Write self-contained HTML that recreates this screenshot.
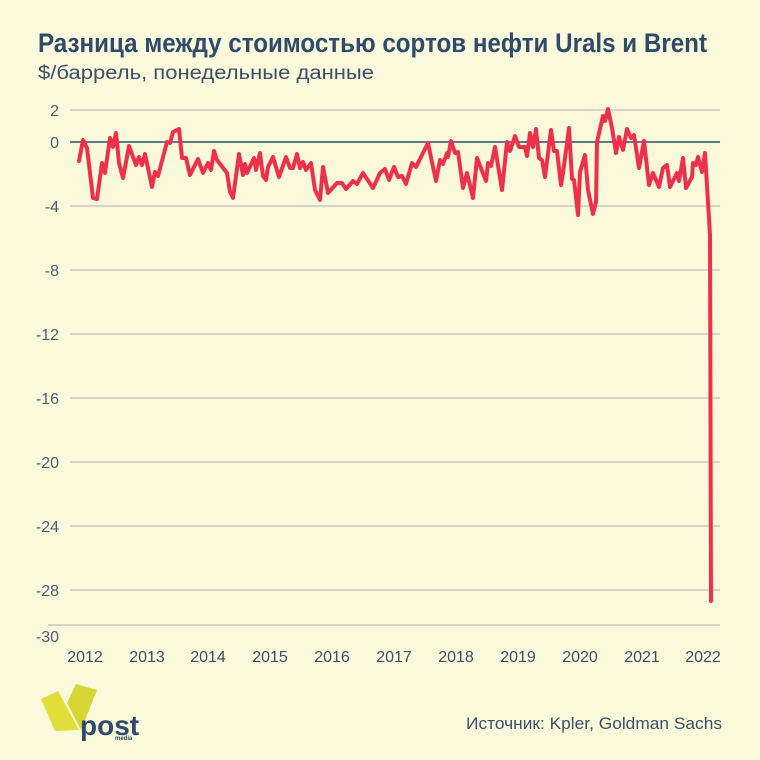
<!DOCTYPE html>
<html><head><meta charset="utf-8"><style>
html,body{margin:0;padding:0;background:#faf9dc;}
svg{display:block;font-family:"Liberation Sans",sans-serif;}
</style></head><body>
<svg width="760" height="760" viewBox="0 0 760 760">
<rect width="760" height="760" fill="#faf9dc"/>
<text x="38" y="52" font-size="27" font-weight="bold" fill="#2f4a6a" textLength="669" lengthAdjust="spacingAndGlyphs">Разница между стоимостью сортов нефти Urals и Brent</text>
<text x="38" y="79" font-size="19" fill="#3d5068" textLength="336" lengthAdjust="spacingAndGlyphs">$/баррель, понедельные данные</text>
<g stroke="#c9cbc0" stroke-width="1.5">
<line x1="70" x2="720" y1="110" y2="110"/>
<line x1="70" x2="720" y1="206" y2="206"/>
<line x1="70" x2="720" y1="270" y2="270"/>
<line x1="70" x2="720" y1="334" y2="334"/>
<line x1="70" x2="720" y1="398" y2="398"/>
<line x1="70" x2="720" y1="462" y2="462"/>
<line x1="70" x2="720" y1="526" y2="526"/>
<line x1="70" x2="720" y1="590" y2="590"/>
<line x1="48" x2="720" y1="625" y2="625"/>
</g>
<line x1="70" x2="720" y1="142" y2="142" stroke="#2f4a6a" stroke-width="1.6"/>
<g font-size="16" fill="#4d5f75" text-anchor="end">
<text x="59" y="116">2</text><text x="59" y="148">0</text><text x="59" y="212">-4</text>
<text x="59" y="276">-8</text><text x="59" y="340">-12</text><text x="59" y="404">-16</text>
<text x="59" y="468">-20</text><text x="59" y="532">-24</text><text x="59" y="596">-28</text>
<text x="59" y="642">-30</text>
</g>
<g font-size="16" fill="#3d5068" text-anchor="middle">
<text x="85" y="662">2012</text><text x="147" y="662">2013</text><text x="208" y="662">2014</text>
<text x="270" y="662">2015</text><text x="332" y="662">2016</text><text x="394" y="662">2017</text>
<text x="456" y="662">2018</text><text x="518" y="662">2019</text><text x="580" y="662">2020</text>
<text x="642" y="662">2021</text><text x="703" y="662">2022</text>
</g>
<polyline fill="none" stroke="#ee304b" stroke-width="4" stroke-linejoin="round" stroke-linecap="round" points="79,161 83,140 87,148 93,198 97,199 102,163 105,173 110,138 113,147 116,133 119,163 123,178 129,146 136,165 139,157 142,165 145,154 152,187 155,172 158,176 167,142 170,143 173,132 179,129 182,158 186,158 190,175 198,159 203,173 208,163 211,170 214,151 217,160 227,173 230,192 233,198 239,154 243,175 245,164 247,173 254,158 256,170 260,153 263,176 266,180 268,167 273,157 279,177 286,157 290,168 293,168 297,154 300,168 303,162 306,170 311,163 315,190 320,200 323,167 328,193 337,183 342,183 346,189 353,181 357,184 363,173 373,188 380,173 385,169 389,180 394,167 398,177 402,176 406,184 412,163 416,167 428,143 436,181 440,160 443,164 447,153 448,157 451,141 455,153 458,152 463,188 467,173 473,198 477,158 486,181 488,163 491,166 495,147 502,190 507,142 510,151 515,136 519,147 525,147 527,156 530,133 533,147 536,129 539,158 542,160 545,177 551,130 554,151 557,151 561,185 563,173 569,128 572,179 574,180 578,215 580,172 585,155 588,190 593,214 596,202 597,142 603,116 605,121 608,109 612,128 616,153 619,137 623,150 627,129 631,138 634,135 639,168 644,141 649,185 653,173 659,187 663,168 667,165 670,187 677,173 679,181 683,158 686,188 692,177 693,163 696,165 698,157 702,172 705,153 710,235 711,601"/>
<polygon points="76,684 97,690 81,730 67,703" fill="#d6d536"/>
<polygon points="41,699 58,691 79,730 55,731" fill="#e0df3a"/>
<text x="80" y="735" font-size="28" font-weight="bold" fill="#2f4a6a">post</text>
<text x="115" y="740" font-size="6" font-weight="bold" fill="#2f4a6a">media</text>
<text x="722" y="729" font-size="17" fill="#3d5068" text-anchor="end" textLength="256" lengthAdjust="spacingAndGlyphs">Источник: Kpler, Goldman Sachs</text>
</svg>
</body></html>
